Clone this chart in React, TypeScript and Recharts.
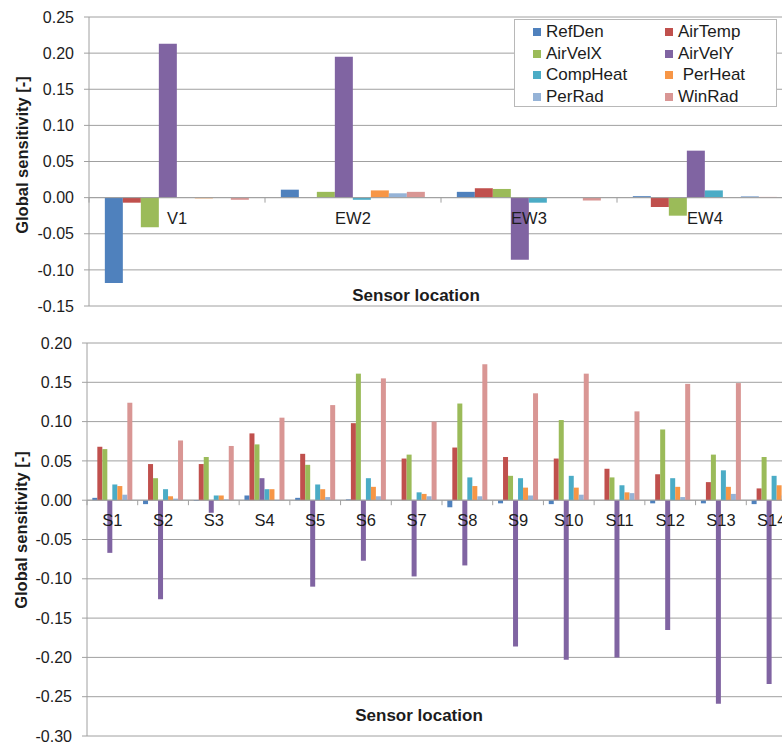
import React from "react";
import { Bar, ComposedChart, CartesianGrid, XAxis, YAxis, ReferenceLine, Legend } from "recharts";

// series (same order as the legend, row by row)
const seriesKeys = ["RefDen", "AirTemp", "AirVelX", "AirVelY", "CompHeat", "PerHeat", "PerRad", "WinRad"];
const seriesLabels = ["RefDen", "AirTemp", "AirVelX", "AirVelY", "CompHeat", " PerHeat", "PerRad", "WinRad"];
const seriesColors = ["#4F81BD", "#C0504D", "#9BBB59", "#8064A2", "#4BACC6", "#F79646", "#95B3D7", "#D99694"];

// top panel: V1 and EW sensors
const topCategories = ["V1", "EW2", "EW3", "EW4"];
const topRefDen = [-0.118, 0.011, 0.008, 0.002];
const topAirTemp = [-0.007, 0.0, 0.013, -0.013];
const topAirVelX = [-0.041, 0.008, 0.012, -0.025];
const topAirVelY = [0.213, 0.195, -0.086, 0.065];
const topCompHeat = [0.0, -0.003, -0.007, 0.01];
const topPerHeat = [-0.001, 0.01, 0.0, 0.0];
const topPerRad = [0.0, 0.006, 0.0, 0.002];
const topWinRad = [-0.003, 0.008, -0.004, 0.001];
const topTicks = [-0.15, -0.1, -0.05, 0, 0.05, 0.1, 0.15, 0.2, 0.25];

// bottom panel: S sensors
const bottomCategories = ["S1", "S2", "S3", "S4", "S5", "S6", "S7", "S8", "S9", "S10", "S11", "S12", "S13", "S14"];
const bottomRefDen = [0.003, -0.005, -0.001, 0.006, 0.003, 0.001, 0.0, -0.009, -0.004, -0.005, 0.0, -0.004, -0.004, -0.005];
const bottomAirTemp = [0.068, 0.046, 0.046, 0.085, 0.059, 0.098, 0.053, 0.067, 0.055, 0.053, 0.04, 0.033, 0.023, 0.015];
const bottomAirVelX = [0.065, 0.028, 0.055, 0.071, 0.045, 0.161, 0.058, 0.123, 0.031, 0.102, 0.029, 0.09, 0.058, 0.055];
const bottomAirVelY = [-0.067, -0.126, -0.016, 0.028, -0.11, -0.077, -0.097, -0.083, -0.186, -0.203, -0.2, -0.165, -0.259, -0.234];
const bottomCompHeat = [0.02, 0.014, 0.006, 0.014, 0.02, 0.028, 0.01, 0.029, 0.028, 0.031, 0.019, 0.028, 0.038, 0.031];
const bottomPerHeat = [0.018, 0.005, 0.006, 0.014, 0.014, 0.017, 0.008, 0.018, 0.016, 0.016, 0.01, 0.017, 0.017, 0.019];
const bottomPerRad = [0.007, 0.002, 0.001, -0.001, 0.004, 0.005, 0.005, 0.005, 0.006, 0.007, 0.009, 0.004, 0.008, 0.006];
const bottomWinRad = [0.124, 0.076, 0.069, 0.105, 0.121, 0.155, 0.1, 0.173, 0.136, 0.161, 0.113, 0.148, 0.149, 0.12];
const bottomTicks = [-0.3, -0.25, -0.2, -0.15, -0.1, -0.05, 0, 0.05, 0.1, 0.15, 0.2];

const FONT = '"Liberation Sans", Arial, sans-serif';
const GRID = "#a0a0a0";
const TEXT = "#1c1c1c";

function buildRows(categories: string[], columns: number[][]) {
  return categories.map((name, i) => {
    const row: Record<string, string | number> = { name };
    seriesKeys.forEach((key, j) => {
      row[key] = columns[j][i];
    });
    return row;
  });
}

const topData = buildRows(topCategories, [
  topRefDen, topAirTemp, topAirVelX, topAirVelY, topCompHeat, topPerHeat, topPerRad, topWinRad,
]);
const bottomData = buildRows(bottomCategories, [
  bottomRefDen, bottomAirTemp, bottomAirVelX, bottomAirVelY, bottomCompHeat, bottomPerHeat, bottomPerRad, bottomWinRad,
]);

// category labels sit just under the zero line, like Excel's "axis crosses at 0"
function CategoryTick(props: any) {
  const { x, y, payload, lift, band } = props;
  const zeroY = y - lift;
  return (
    <g>
      <line x1={x - band / 2} x2={x - band / 2} y1={zeroY} y2={zeroY + 5} stroke={GRID} />
      <text x={x} y={zeroY + 26} textAnchor="middle" fontSize={16.5} fill={TEXT}>
        {payload.value}
      </text>
    </g>
  );
}

// axis titles: recharts passes its own x/y to label elements, so we use tx/ty
function XTitle({ tx, ty }: { tx: number; ty: number }) {
  return (
    <text x={tx} y={ty} textAnchor="middle" fontSize={17} fontWeight="bold" fill={TEXT}>
      Sensor location
    </text>
  );
}

function YTitle({ tx, ty }: { tx: number; ty: number }) {
  return (
    <text
      x={tx}
      y={ty}
      transform={`rotate(-90, ${tx}, ${ty})`}
      textAnchor="middle"
      dominantBaseline="central"
      fontSize={16.5}
      fontWeight="bold"
      fill={TEXT}
    >
      Global sensitivity [-]
    </text>
  );
}

function LegendBox() {
  return (
    <div
      style={{
        boxSizing: "border-box",
        width: 263,
        height: 88,
        border: "1px solid #b8b8b8",
        background: "#fff",
        padding: "1px 0 0 18px",
        display: "grid",
        gridTemplateColumns: "132px 110px",
        fontFamily: FONT,
        fontSize: 17,
        color: TEXT,
      }}
    >
      {seriesKeys.map((key, i) => (
        <div key={key} style={{ height: 21.7, display: "flex", alignItems: "center", whiteSpace: "pre" }}>
          <span style={{ width: 8, height: 8, background: seriesColors[i], marginRight: 5, flex: "none" }} />
          {seriesLabels[i]}
        </div>
      ))}
    </div>
  );
}

interface PanelProps {
  data: Record<string, string | number>[];
  ticks: number[];
  width: number;
  height: number;
  margin: { top: number; right: number; bottom: number; left: number };
  yAxisWidth: number;
  xAxisHeight: number;
  gap: string;
  xTitle: { x: number; y: number };
  yTitle: { x: number; y: number };
  legend?: boolean;
}

function SensitivityPanel(p: PanelProps) {
  const lo = p.ticks[0];
  const hi = p.ticks[p.ticks.length - 1];
  const plotHeight = p.height - p.margin.top - p.margin.bottom - p.xAxisHeight;
  const plotWidth = p.width - p.margin.left - p.margin.right - p.yAxisWidth;
  const lift = (plotHeight * (0 - lo)) / (hi - lo);
  const band = plotWidth / p.data.length;

  return (
    <ComposedChart
      width={p.width}
      height={p.height}
      data={p.data}
      margin={p.margin}
      barCategoryGap={p.gap}
      barGap={0}
      style={{ fontFamily: FONT }}
    >
      <CartesianGrid vertical={false} stroke={GRID} />
      <YAxis
        type="number"
        domain={[lo, hi]}
        ticks={p.ticks}
        interval={0}
        width={p.yAxisWidth}
        tickFormatter={(v: number) => v.toFixed(2)}
        tick={{ fontSize: 16, fill: TEXT }}
        tickSize={5}
        tickMargin={10}
        axisLine={{ stroke: GRID }}
        tickLine={{ stroke: GRID }}
        label={<YTitle tx={p.yTitle.x} ty={p.yTitle.y} />}
      />
      <ReferenceLine y={0} stroke={GRID} />
      {seriesKeys.map((key, i) => (
        <Bar key={key} dataKey={key} name={seriesLabels[i]} fill={seriesColors[i]} isAnimationActive={false} />
      ))}
      <XAxis
        dataKey="name"
        height={p.xAxisHeight}
        interval={0}
        axisLine={false}
        tickLine={false}
        tickSize={0}
        tickMargin={0}
        tick={(tp: any) => <CategoryTick {...tp} lift={lift} band={band} />}
        label={<XTitle tx={p.xTitle.x} ty={p.xTitle.y} />}
      />
      {p.legend && (
        <Legend
          layout="vertical"
          align="center"
          verticalAlign="middle"
          content={() => <LegendBox />}
          wrapperStyle={{ left: 514, top: 19, width: 263, height: 88 }}
        />
      )}
    </ComposedChart>
  );
}

export default function App() {
  return (
    <div
      style={{
        position: "absolute",
        left: 0,
        top: 0,
        width: 782,
        height: 744,
        overflow: "hidden",
        background: "#fff",
        fontFamily: FONT,
      }}
    >
      <div style={{ position: "absolute", left: 0, top: 0 }}>
        <SensitivityPanel
          data={topData}
          ticks={topTicks}
          width={830}
          height={330}
          margin={{ top: 17, right: 37, bottom: 0, left: 0 }}
          yAxisWidth={89}
          xAxisHeight={24}
          gap="9%"
          xTitle={{ x: 416, y: 301 }}
          yTitle={{ x: 22, y: 155 }}
          legend
        />
      </div>
      <div style={{ position: "absolute", left: 0, top: 330 }}>
        <SensitivityPanel
          data={bottomData}
          ticks={bottomTicks}
          width={830}
          height={414}
          margin={{ top: 13, right: 33, bottom: 0, left: 0 }}
          yAxisWidth={87}
          xAxisHeight={8}
          gap="10.5%"
          xTitle={{ x: 419, y: 391 }}
          yTitle={{ x: 21, y: 200 }}
        />
      </div>
    </div>
  );
}
